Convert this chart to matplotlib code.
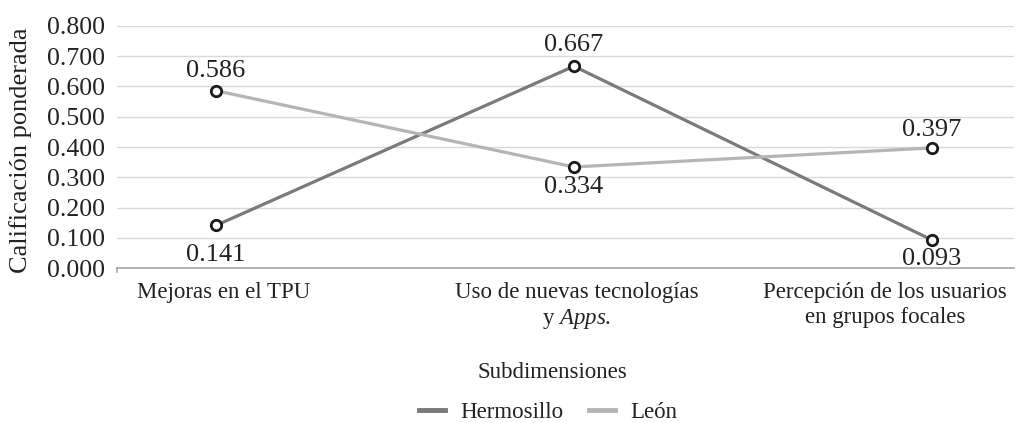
import matplotlib
matplotlib.use("Agg")
import matplotlib.pyplot as plt
from matplotlib.lines import Line2D

plt.rcParams["font.family"] = ["Liberation Serif", "DejaVu Serif"]
plt.rcParams["mathtext.fontset"] = "custom"
plt.rcParams["mathtext.rm"] = "Liberation Serif"
plt.rcParams["mathtext.it"] = "Liberation Serif:italic"

categories = [
    "Mejoras en el TPU",
    "Uso de nuevas tecnologías\ny $\\mathit{Apps}$.",
    "Percepción de los usuarios\nen grupos focales",
]
hermosillo = [0.141, 0.667, 0.093]
leon = [0.586, 0.334, 0.397]
yticks = [0.0, 0.1, 0.2, 0.3, 0.4, 0.5, 0.6, 0.7, 0.8]

c_her = "#7a7a7a"
c_leo = "#b5b5b5"
c_txt = "#222222"

W, H = 1016, 423
fig = plt.figure(figsize=(W / 100, H / 100), dpi=100)
ax = fig.add_axes([117 / W, 1 - 268 / H, (1014 - 117) / W, (268 - 26) / H])

x = list(range(len(categories)))
mk = dict(marker="o", markersize=7.5, markerfacecolor="white",
          markeredgecolor="#1a1a1a", markeredgewidth=2.0)
ax.plot(x, hermosillo, color=c_her, lw=2.3, zorder=3, **mk)
ax.plot(x, leon, color=c_leo, lw=2.3, zorder=3, **mk)

# value labels, offset (in points) above (+) or below (-) each point
her_off = [-21, 15, -14]
leo_off = [14, -14.5, 13]
for series, offs in ((hermosillo, her_off), (leon, leo_off)):
    for xi, v, dy in zip(x, series, offs):
        ax.annotate(f"{v:.3f}", (xi, v), xytext=(0, dy), textcoords="offset points",
                    ha="center", va="center", fontsize=19, color=c_txt)

ax.set_ylim(0, 0.8)
ax.set_yticks(yticks)
ax.set_yticklabels([f"{t:.3f}" for t in yticks], fontsize=18.5, color=c_txt)
ax.set_xlim(-0.277, 2.23)
ax.set_xticks(x)
ax.set_xticklabels([])
ax.tick_params(axis="x", length=0)
ax.tick_params(axis="y", length=0, pad=9)

# category names under the axis
cat_cx = [224, 577, 885]
for cx, name in zip(cat_cx, categories):
    fig.text(cx / W, 1 - 282 / H, name, ha="center", va="top", fontsize=16.5,
             color=c_txt, linespacing=1.22)

ax.grid(axis="y", color="#d9d9d9", lw=1.0)
ax.set_axisbelow(True)
for s in ["top", "right", "left"]:
    ax.spines[s].set_visible(False)
ax.spines["bottom"].set_color("#a6a6a6")
ax.spines["bottom"].set_linewidth(1.2)
# small tick at the left end of the category axis
ax.plot([-0.277, -0.277], [0, -0.012], color="#a6a6a6", lw=1.2, clip_on=False)

fig.text(21 / W, 1 - 150 / H, "Calificación ponderada", rotation=90, ha="center",
         va="center", fontsize=19, color=c_txt)
fig.text(552 / W, 1 - 372 / H, "Subdimensiones", ha="center", va="center",
         fontsize=16.5, color=c_txt)

handles = [Line2D([], [], color=c_her, lw=3.5), Line2D([], [], color=c_leo, lw=3.5)]
fig.legend(handles, ["Hermosillo", "León"], loc="center", ncol=2,
           bbox_to_anchor=(548 / W, 1 - 412 / H), frameon=False,
           fontsize=16.5, handlelength=1.15, handletextpad=0.65, columnspacing=1.1,
           borderpad=0, borderaxespad=0)
for t in fig.legends[0].get_texts():
    t.set_color(c_txt)

fig.savefig("out.png", dpi=100, facecolor="white")
